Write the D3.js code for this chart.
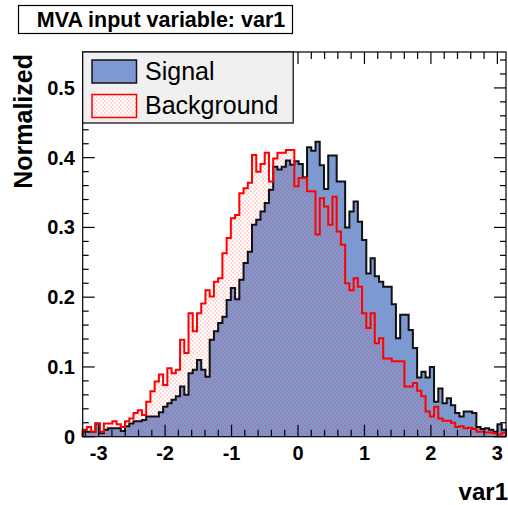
<!DOCTYPE html>
<html><head><meta charset="utf-8">
<script src="https://cdn.jsdelivr.net/npm/d3@7"></script>
<style>
body{margin:0;background:#fff}
svg{display:block}
text{font-family:"Liberation Sans",Arial,Helvetica,sans-serif}
</style>
</head><body>
<svg id="c" width="508" height="505"></svg>
<script>
const titleText = "MVA input variable: var1";
const xLabel = "var1";
const yLabel = "Normalized";
const seriesNames = ["Signal", "Background"];
const xMin = -3.24, xMax = 3.13, nBins = 100;
const yMax = 0.5515;
const xTicks = [-3, -2, -1, 0, 1, 2, 3];
const yTicks = [0, 0.1, 0.2, 0.3, 0.4, 0.5];
const yTickLabels = ["0", "0.1", "0.2", "0.3", "0.4", "0.5"];

const signal = [
0.007,0.007,0.007,0.019,0.005,0.010,0.012,0.012,0.012,0.008,
0.015,0.019,0.022,0.022,0.024,0.029,0.029,0.029,0.035,0.043,
0.048,0.053,0.058,0.072,0.060,0.091,0.096,0.110,0.096,0.086,
0.139,0.151,0.163,0.172,0.196,0.213,0.197,0.225,0.249,0.265,
0.304,0.311,0.323,0.335,0.354,0.387,0.383,0.387,0.396,0.390,
0.395,0.391,0.372,0.415,0.410,0.423,0.389,0.355,0.403,0.403,
0.366,0.366,0.300,0.323,0.337,0.308,0.282,0.234,0.256,0.230,
0.222,0.215,0.215,0.190,0.141,0.175,0.175,0.153,0.127,0.085,
0.093,0.085,0.100,0.050,0.069,0.048,0.055,0.045,0.034,0.029,
0.036,0.036,0.034,0.014,0.011,0.012,0.010,0.007,0.018,0.010
];
const background = [
0.010,0.014,0.007,0.019,0.007,0.019,0.019,0.022,0.018,0.014,
0.022,0.026,0.034,0.038,0.031,0.050,0.065,0.079,0.089,0.074,
0.098,0.091,0.096,0.139,0.120,0.177,0.151,0.177,0.191,0.210,
0.201,0.222,0.227,0.263,0.285,0.313,0.318,0.349,0.356,0.364,
0.404,0.380,0.391,0.407,0.366,0.399,0.407,0.407,0.411,0.411,
0.359,0.371,0.371,0.352,0.352,0.290,0.342,0.330,0.304,0.344,
0.294,0.275,0.220,0.210,0.227,0.215,0.177,0.156,0.177,0.134,
0.141,0.112,0.112,0.108,0.108,0.108,0.072,0.072,0.077,0.066,
0.058,0.036,0.029,0.043,0.026,0.023,0.023,0.020,0.014,0.015,
0.012,0.013,0.011,0.007,0.007,0.006,0.006,0.005,0.003,0.006
];

const svg = d3.select("#c");
const L = 82.7, R = 506, T = 52, B = 436.7;
const x = d3.scaleLinear().domain([xMin, xMax]).range([L, R]);
const y = d3.scaleLinear().domain([0, yMax]).range([B, T]);
const bw = (xMax - xMin) / nBins;

// dotted pattern
const defs = svg.append("defs");
const pat = defs.append("pattern").attr("id", "dots").attr("patternUnits", "userSpaceOnUse")
  .attr("width", 4).attr("height", 4);
pat.append("rect").attr("x", 0.5).attr("y", 0.5).attr("width", 1).attr("height", 1).attr("fill", "#ff3030").attr("opacity", 0.75);
pat.append("rect").attr("x", 2.5).attr("y", 2.5).attr("width", 1).attr("height", 1).attr("fill", "#ff3030").attr("opacity", 0.75);

function histPath(vals) {
  const p = d3.path();
  p.moveTo(x(xMin), y(0));
  vals.forEach((v, i) => {
    p.lineTo(x(xMin + i * bw), y(v));
    p.lineTo(x(xMin + (i + 1) * bw), y(v));
  });
  p.lineTo(x(xMax), y(0));
  return p.toString();
}

const plot = svg.append("g");
plot.append("path").attr("d", histPath(signal) + "Z").attr("fill", "#7d99d1").attr("stroke", "none");
plot.append("path").attr("d", histPath(background) + "Z").attr("fill", "url(#dots)").attr("stroke", "none");
plot.append("path").attr("d", histPath(signal)).attr("fill", "none").attr("stroke", "#111").attr("stroke-width", 2);
plot.append("path").attr("d", histPath(background)).attr("fill", "none").attr("stroke", "#ff0000").attr("stroke-width", 2);

// frame
svg.append("rect").attr("x", L).attr("y", T).attr("width", R - L).attr("height", B - T)
  .attr("fill", "none").attr("stroke", "#000").attr("stroke-width", 1.2);

// ticks
const ax = svg.append("g").attr("stroke", "#000").attr("stroke-width", 1.2);
const xMinor = d3.range(-16, 16).map(k => k * 0.2).filter(v => v > xMin && v < xMax);
xMinor.forEach(v => {
  const major = Math.abs(v - Math.round(v)) < 1e-6;
  const len = major ? 12 : 7;
  ax.append("line").attr("x1", x(v)).attr("x2", x(v)).attr("y1", B).attr("y2", B - len);
  ax.append("line").attr("x1", x(v)).attr("x2", x(v)).attr("y1", T).attr("y2", T + len);
});
const yMinor = d3.range(0, 28).map(k => k * 0.02).filter(v => v < yMax);
yMinor.forEach((v, k) => {
  const major = k % 5 === 0;
  const len = major ? 12 : 6;
  ax.append("line").attr("x1", L).attr("x2", L + len).attr("y1", y(v)).attr("y2", y(v));
  ax.append("line").attr("x1", R).attr("x2", R - len).attr("y1", y(v)).attr("y2", y(v));
});

// tick labels
svg.append("g").selectAll("text").data(xTicks).join("text")
  .attr("x", d => x(d)).attr("y", 460).attr("text-anchor", "middle")
  .attr("font-size", 20).attr("font-weight", "bold").text(d => d);
svg.append("g").selectAll("text").data(yTicks).join("text")
  .attr("x", 75).attr("y", d => y(d) + 7).attr("text-anchor", "end")
  .attr("font-size", 20).attr("font-weight", "bold").text((d, i) => yTickLabels[i]);

// axis titles
svg.append("text").attr("x", 508).attr("y", 500).attr("text-anchor", "end")
  .attr("font-size", 24).attr("font-weight", "bold").text(xLabel);
svg.append("text").attr("transform", "translate(32,54) rotate(-90)").attr("text-anchor", "end")
  .attr("font-size", 25).attr("font-weight", "bold").text(yLabel);

// title box
svg.append("rect").attr("x", 18.5).attr("y", 5.5).attr("width", 274).attr("height", 28)
  .attr("fill", "#fff").attr("stroke", "#000").attr("stroke-width", 1.2);
svg.append("text").attr("x", 161).attr("y", 26.5).attr("text-anchor", "middle")
  .attr("font-size", 21.5).attr("font-weight", "bold").text(titleText);

// legend
const lg = svg.append("g");
lg.append("rect").attr("x", L).attr("y", T).attr("width", 210.5).attr("height", 71)
  .attr("fill", "#f0f0f0").attr("stroke", "#000").attr("stroke-width", 1.2);
lg.append("rect").attr("x", 92).attr("y", 60).attr("width", 44.5).attr("height", 23)
  .attr("fill", "#7d99d1").attr("stroke", "#111").attr("stroke-width", 1.5);
lg.append("rect").attr("x", 92).attr("y", 94.5).attr("width", 44.5).attr("height", 23)
  .attr("fill", "#fff").attr("stroke", "none");
lg.append("rect").attr("x", 92).attr("y", 94.5).attr("width", 44.5).attr("height", 23)
  .attr("fill", "url(#dots)").attr("stroke", "#ff0000").attr("stroke-width", 1.5);
lg.append("text").attr("x", 145).attr("y", 80).attr("font-size", 25).text(seriesNames[0]);
lg.append("text").attr("x", 145).attr("y", 114).attr("font-size", 25).text(seriesNames[1]);
</script>
</body></html>
